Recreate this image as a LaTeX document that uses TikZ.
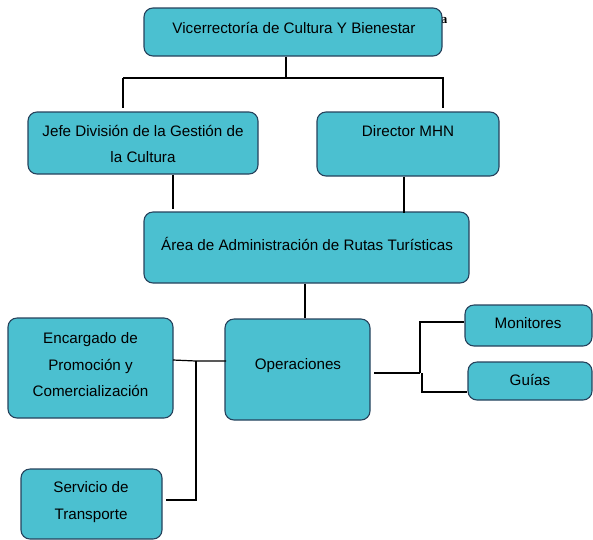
\documentclass[tikz,border=0pt]{standalone}
\usepackage{fontspec}
\setmainfont{Liberation Sans}
\newfontfamily\serifbold{Liberation Serif}
\definecolor{boxfill}{RGB}{75,192,208}
\definecolor{boxline}{RGB}{38,66,92}
\begin{document}
\begin{tikzpicture}[x=1pt,y=-1pt,
  box/.style={draw=boxline,fill=boxfill,line width=1.1pt,rounded corners=9pt,inner sep=0pt},
  txt/.style={align=center,inner sep=0pt,font=\fontsize{15.2}{26.5}\selectfont},
  conn/.style={draw=black,line width=1.2pt},
  thick conn/.style={draw=black,line width=1.9pt}]
\useasboundingbox (0,0) rectangle (593,539);
% stray letter, partly hidden by the top box
\node[inner sep=0pt,font=\serifbold\bfseries\fontsize{13}{13}\selectfont] (stray) at (444,21) {a};
% boxes
\node[box,minimum width=298pt,minimum height=48pt] (vic) at (293,32) {};
\node[box,minimum width=230pt,minimum height=62pt] (jefe) at (143,143) {};
\node[box,minimum width=182pt,minimum height=64pt] (dir) at (408,144) {};
\node[box,minimum width=325pt,minimum height=71pt] (area) at (306.5,247.5) {};
\node[box,minimum width=165pt,minimum height=100pt] (enc) at (90.5,368) {};
\node[box,minimum width=145pt,minimum height=101pt] (ops) at (297.5,369.5) {};
\node[box,minimum width=127pt,minimum height=41pt] (mon) at (528.5,325.5) {};
\node[box,minimum width=124pt,minimum height=38pt] (gui) at (530,381) {};
\node[box,minimum width=141pt,minimum height=70pt] (serv) at (91.5,504) {};
% texts
\node[txt] (tvic) at (294,28) {Vicerrectoría de Cultura Y Bienestar};
\node[txt] (tjefe) at (143,144) {Jefe División de la Gestión de\\la Cultura};
\node[txt] (tdir) at (408,131) {Director MHN};
\node[txt] (tarea) at (307,244) {Área de Administración de Rutas Turísticas};
\node[txt] (tenc) at (90.5,365) {Encargado de\\Promoción y\\Comercialización};
\node[txt] (tops) at (298,366) {Operaciones};
\node[txt] (tmon) at (528,323) {Monitores};
\node[txt] (tgui) at (530,380) {Guías};
\node[txt] (tserv) at (91,502) {Servicio de\\Transporte};
% connector coordinates
\coordinate (hl) at (123,78);
\coordinate (hr) at (444,78);
\coordinate (hm) at (286,78);
\coordinate (jl) at (123,108);
\coordinate (dt) at (443,78);
\coordinate (dr) at (443,108);
\coordinate (opl) at (226,361);
\coordinate (el) at (173,360);
\coordinate (vj) at (196,361);
\coordinate (vb) at (196,500);
\coordinate (sr) at (166,500);
\coordinate (or) at (374,373);
\coordinate (bj) at (420,373);
\coordinate (bt) at (420,322);
\coordinate (bj2) at (422,373);
\coordinate (bb) at (422,392);
% connectors
\draw[conn] (vic.south -| hm) -- (hm);
\draw[conn] (hl) -- (hr);
\draw[conn] (hl) -- (jl);
\draw[conn] (dt) -- (dr);
\draw[conn] (jefe.south -| 173,0) -- ([yshift=2pt]area.north -| 173,0);
\draw[conn] (dir.south -| 404,0) -- ([yshift=-2pt]area.north -| 404,0);
\draw[conn] (area.south -| 305,0) -- (ops.north -| 305,0);
\draw[conn] (el) -- (vj) -- (opl);
\draw[conn] (vj) -- (vb) -- (sr);
\draw[thick conn] (or) -- (bj);
\draw[conn] (bj) -- (bt) -- (mon.west |- bt);
\draw[conn] (bj2) -- (bb) -- (gui.west |- bb);
\end{tikzpicture}
\end{document}
